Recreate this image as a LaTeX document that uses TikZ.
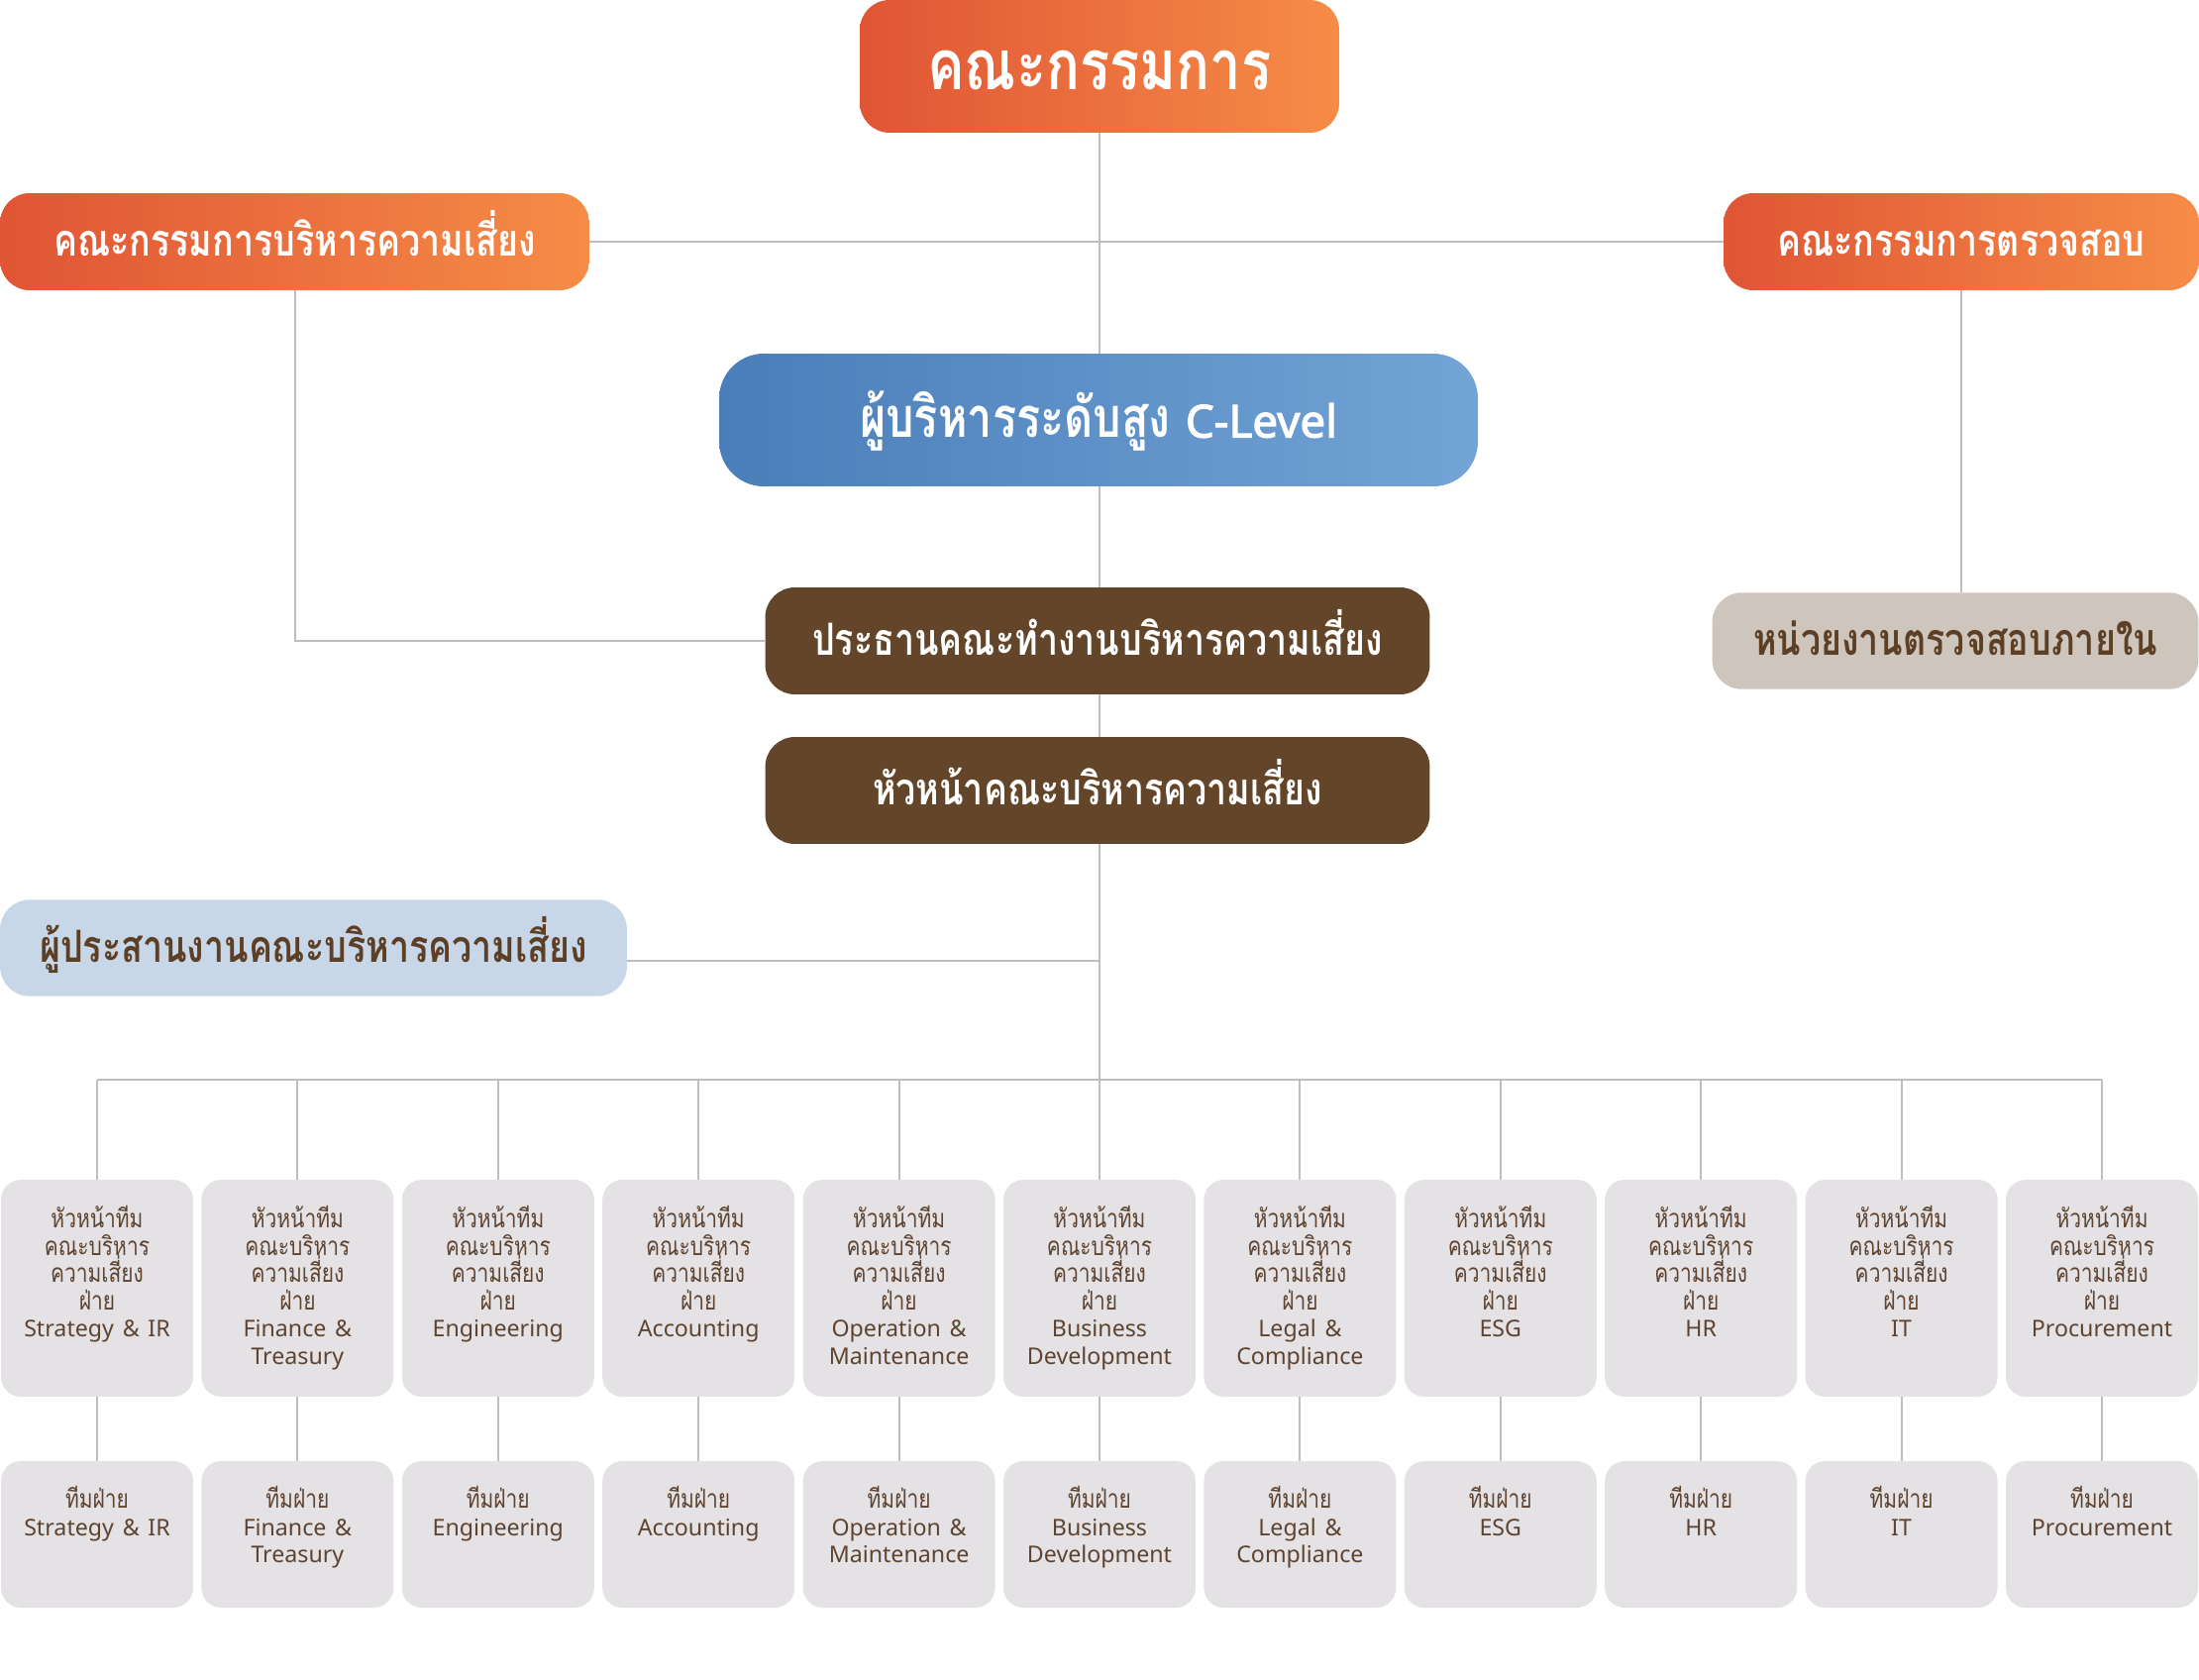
\documentclass[tikz,border=0pt]{standalone}
\usepackage{fontspec}
\setmainfont{Noto Sans}
\newfontfamily\thaifont[Script=Thai, FakeStretch=0.8]{Loma}
\newfontfamily\heavylatin[FakeBold=2.5]{Noto Sans}
\usetikzlibrary{backgrounds}
\definecolor{orangeL}{HTML}{E05535}
\definecolor{orangeR}{HTML}{F68C47}
\definecolor{blueL}{HTML}{4A7EB9}
\definecolor{blueR}{HTML}{73A4D6}
\definecolor{brownbox}{HTML}{634629}
\definecolor{beigebox}{HTML}{CEC6BC}
\definecolor{paleblue}{HTML}{C8D7E8}
\definecolor{cellfill}{HTML}{E4E2E4}
\definecolor{cellink}{HTML}{5E4430}
\definecolor{darkink}{HTML}{5C3F24}
\definecolor{linegray}{HTML}{BFBDBD}
\tikzset{
    tie/.style={draw=linegray, line width=0.04cm},
    box/.style={rounded corners=0.6cm, inner sep=0pt, align=center, text height=23pt, text depth=6.2pt},
    orangebox/.style={box, left color=orangeL, right color=orangeR, text=white,
        minimum height=1.96cm, font=\thaifont\bfseries\fontsize{25.5}{30}\selectfont},
    board/.style={box, left color=orangeL, right color=orangeR, text=white, text height=36pt, text depth=9.6pt,
        minimum width=9.68cm, minimum height=2.68cm, font=\thaifont\bfseries\fontsize{40}{46}\selectfont},
    clevel/.style={box, rounded corners=0.9cm, left color=blueL, right color=blueR, text=white,
        text height=28pt, text depth=8pt,
        minimum width=15.32cm, minimum height=2.68cm, font=\thaifont\bfseries\fontsize{32}{38}\selectfont},
    brownbox/.style={box, fill=brownbox, text=white, minimum width=13.42cm, minimum height=2.16cm,
        font=\thaifont\bfseries\fontsize{25.5}{30}\selectfont},
    softbox/.style={box, text=darkink, minimum height=1.95cm,
        font=\thaifont\bfseries\fontsize{25.5}{30}\selectfont},
    leadbox/.style={rounded corners=0.4cm, fill=cellfill, minimum width=3.88cm, minimum height=4.38cm},
    teambox/.style={rounded corners=0.4cm, fill=cellfill, minimum width=3.88cm, minimum height=2.96cm},
    cellnote/.style={anchor=north, inner sep=0pt, text width=3.8cm, align=center, text=cellink,
        font=\thaifont\fontsize{14.9}{15.7}\selectfont}
}
\newcommand{\latin}[1]{{\rmfamily\fontsize{13.2}{15.7}\selectfont #1}}
\begin{document}
\begin{tikzpicture}[x=0.02cm, y=-0.02cm]
\useasboundingbox (0,0) rectangle (2220,1696);

\node[board] (board) at (1110,67) {คณะกรรมการ};
\node[orangebox, minimum width=11.9cm] (riskcom) at (297.5,244) {คณะกรรมการบริหารความเสี่ยง};
\node[orangebox, minimum width=9.6cm] (audit) at (1980,244) {คณะกรรมการตรวจสอบ};
\node[clevel] (clevel) at (1109,424) {ผู้บริหารระดับสูง {\heavylatin\fontsize{26}{30}\selectfont C-Level}};
\node[brownbox] (chair) at (1108,647) {ประธานคณะทำงานบริหารความเสี่ยง};
\node[brownbox] (head) at (1108,798) {หัวหน้าคณะบริหารความเสี่ยง};
\node[softbox, fill=beigebox, minimum width=9.82cm] (internal) at (1974,647) {หน่วยงานตรวจสอบภายใน};
\node[softbox, fill=paleblue, minimum width=12.66cm] (coord) at (316.5,957) {ผู้ประสานงานคณะบริหารความเสี่ยง};

\coordinate (bus) at (1110,1090);
\coordinate (coordtap) at (633,970);

\foreach \dept [count=\i from 0] in {Strategy \& IR, {Finance \&\\Treasury}, Engineering, Accounting,
    {Operation \&\\Maintenance}, {Business\\Development}, {Legal \&\\Compliance}, ESG, HR, IT, Procurement}{
  \node[leadbox] (lead\i) at (98+\i*202.4,1300.5) {};
  \node[cellnote] (leadnote\i) at (98+\i*202.4,1217) {หัวหน้าทีม\\คณะบริหาร\\ความเสี่ยง\\ฝ่าย\\\latin{\dept}};
  \node[teambox] (team\i) at (98+\i*202.4,1549) {};
  \node[cellnote] (teamnote\i) at (98+\i*202.4,1500) {ทีมฝ่าย\\\latin{\dept}};
}

\begin{scope}[on background layer]
\draw[tie] (board.south) -- (bus);
\draw[tie] (riskcom.east) -- (audit.west);
\draw[tie] (riskcom.south) |- (chair.west);
\draw[tie] (audit.south) -- (audit.south |- internal.north);
\draw[tie] (coordtap) -- (coordtap -| bus);
\draw[tie] (lead0 |- bus) -- (lead10 |- bus);
\foreach \i in {0,...,10}{
  \draw[tie] (lead\i |- bus) -- (lead\i.north);
  \draw[tie] (lead\i.south) -- (team\i.north);
}
\end{scope}
\end{tikzpicture}
\end{document}
